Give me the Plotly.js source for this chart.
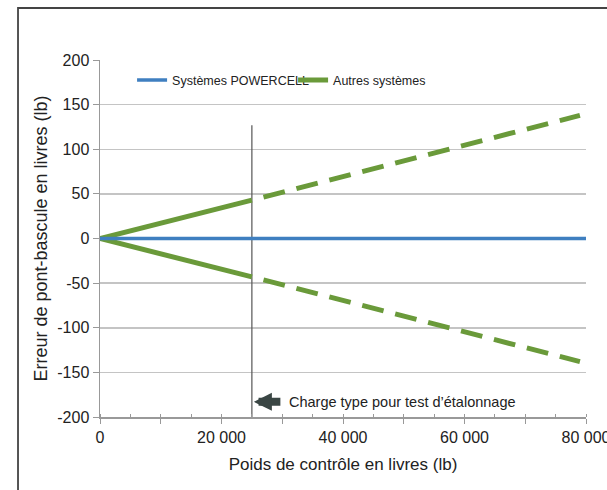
<!DOCTYPE html>
<html>
<head>
<meta charset="utf-8">
<script src="https://cdn.plot.ly/plotly-3.0.1.min.js"></script>
<style>html,body{margin:0;padding:0;background:#fff;}#chart{width:607px;height:490px;}</style>
</head>
<body>
<div id="chart"></div>
<script>
// Data
const xPowercell = [0, 80000];
const yPowercell = [0, 0];
const xOtherSolid = [0, 25000];
const yOtherUpperSolid = [0, 43];
const yOtherLowerSolid = [0, -43];
const xOtherDashed = [25000, 79000];
const yOtherUpperDashed = [43, 138];
const yOtherLowerDashed = [-43, -138];
const xCalib = [25000, 25000];
const yCalib = [-200, 127];
const xTickVals = [0, 10000, 20000, 30000, 40000, 50000, 60000, 70000, 80000];
const xTickText = ['0', '', '20 000', '', '40 000', '', '60 000', '', '80 000'];
const yTickVals = [-200, -150, -100, -50, 0, 50, 100, 150, 200];
const yTickText = ['-200', '-150', '-100', '-50', '0', '50', '100', '150', '200'];
const seriesNames = ['Systèmes POWERCELL', 'Autres systèmes'];
const calibLabel = 'Charge type pour test d’étalonnage';

const blue = '#3f7fc0';
const green = '#6a9a3a';
const font = 'Liberation Sans, Arial, sans-serif';

const traces = [
  {x: xCalib, y: yCalib, mode: 'lines', line: {color: '#555', width: 1.2}, showlegend: false, hoverinfo: 'skip'},
  {x: xOtherSolid, y: yOtherUpperSolid, mode: 'lines', name: seriesNames[1], legendgroup: 'o', legendrank: 2,
   line: {color: green, width: 5}},
  {x: xOtherSolid, y: yOtherLowerSolid, mode: 'lines', name: seriesNames[1], legendgroup: 'o', showlegend: false,
   line: {color: green, width: 5}},
  {x: xOtherDashed, y: yOtherUpperDashed, mode: 'lines', name: seriesNames[1], legendgroup: 'o', showlegend: false,
   line: {color: green, width: 5, dash: '0px,12px,22px,0px'}},
  {x: xOtherDashed, y: yOtherLowerDashed, mode: 'lines', name: seriesNames[1], legendgroup: 'o', showlegend: false,
   line: {color: green, width: 5, dash: '0px,12px,22px,0px'}},
  {x: xPowercell, y: yPowercell, mode: 'lines', name: seriesNames[0], legendrank: 1,
   line: {color: blue, width: 3.5}}
];

const layout = {
  width: 607, height: 490,
  margin: {l: 100, r: 21, t: 60, b: 73},
  paper_bgcolor: '#fff', plot_bgcolor: '#fff',
  font: {family: font, color: '#222', size: 15},
  showlegend: true,
  legend: {orientation: 'h', x: 0.066, y: 0.985, xanchor: 'left', yanchor: 'top',
    entrywidth: 116,
    font: {family: font, size: 12.5, color: '#222'}, bgcolor: 'rgba(0,0,0,0)', traceorder: 'normal'},
  xaxis: {
    range: [0, 80000], tickmode: 'array', tickvals: xTickVals, ticktext: xTickText,
    ticklabeloverflow: 'allow',
    showgrid: false, zeroline: false, showline: true, linecolor: '#999', linewidth: 1.5,
    ticks: 'outside', ticklen: 5, tickcolor: '#999', tickwidth: 1,
    minor: {dtick: 5000, ticks: 'inside', ticklen: 3, tickcolor: '#999', showgrid: false},
    tickfont: {size: 16, color: '#222'},
    title: {text: 'Poids de contrôle en livres (lb)', font: {size: 17, color: '#222'}, standoff: 13}
  },
  yaxis: {
    range: [-200, 200], tickmode: 'array', tickvals: yTickVals, ticktext: yTickText,
    showgrid: true, gridcolor: '#c4c4c4', gridwidth: 1.5, zeroline: false,
    showline: true, linecolor: '#999', linewidth: 1.5,
    ticks: 'outside', ticklen: 6, tickcolor: '#999',
    tickfont: {size: 16, color: '#222'},
    title: {text: 'Erreur de pont-bascule en livres (lb)', font: {size: 18, color: '#222'}, standoff: 5}
  },
  shapes: [
    {type: 'rect', xref: 'paper', yref: 'paper', x0: -0.1687, x1: 1.12, y0: -0.25, y1: 1.1457,
     line: {color: '#444', width: 1.8}, fillcolor: 'rgba(0,0,0,0)', layer: 'below'}
  ],
  annotations: [
    {x: 25000, y: -183, xref: 'x', yref: 'y', text: '', showarrow: true, ax: 30, ay: 0,
     arrowhead: 2, arrowsize: 0.45, arrowwidth: 8, arrowcolor: '#3a4644', standoff: 2},
    {x: 25000, y: -183, xref: 'x', yref: 'y', text: calibLabel, showarrow: false, xanchor: 'left',
     xshift: 35, font: {family: font, size: 14.5, color: '#222'}}
  ]
};

Plotly.newPlot('chart', traces, layout, {displayModeBar: false, staticPlot: true});
</script>
</body>
</html>
